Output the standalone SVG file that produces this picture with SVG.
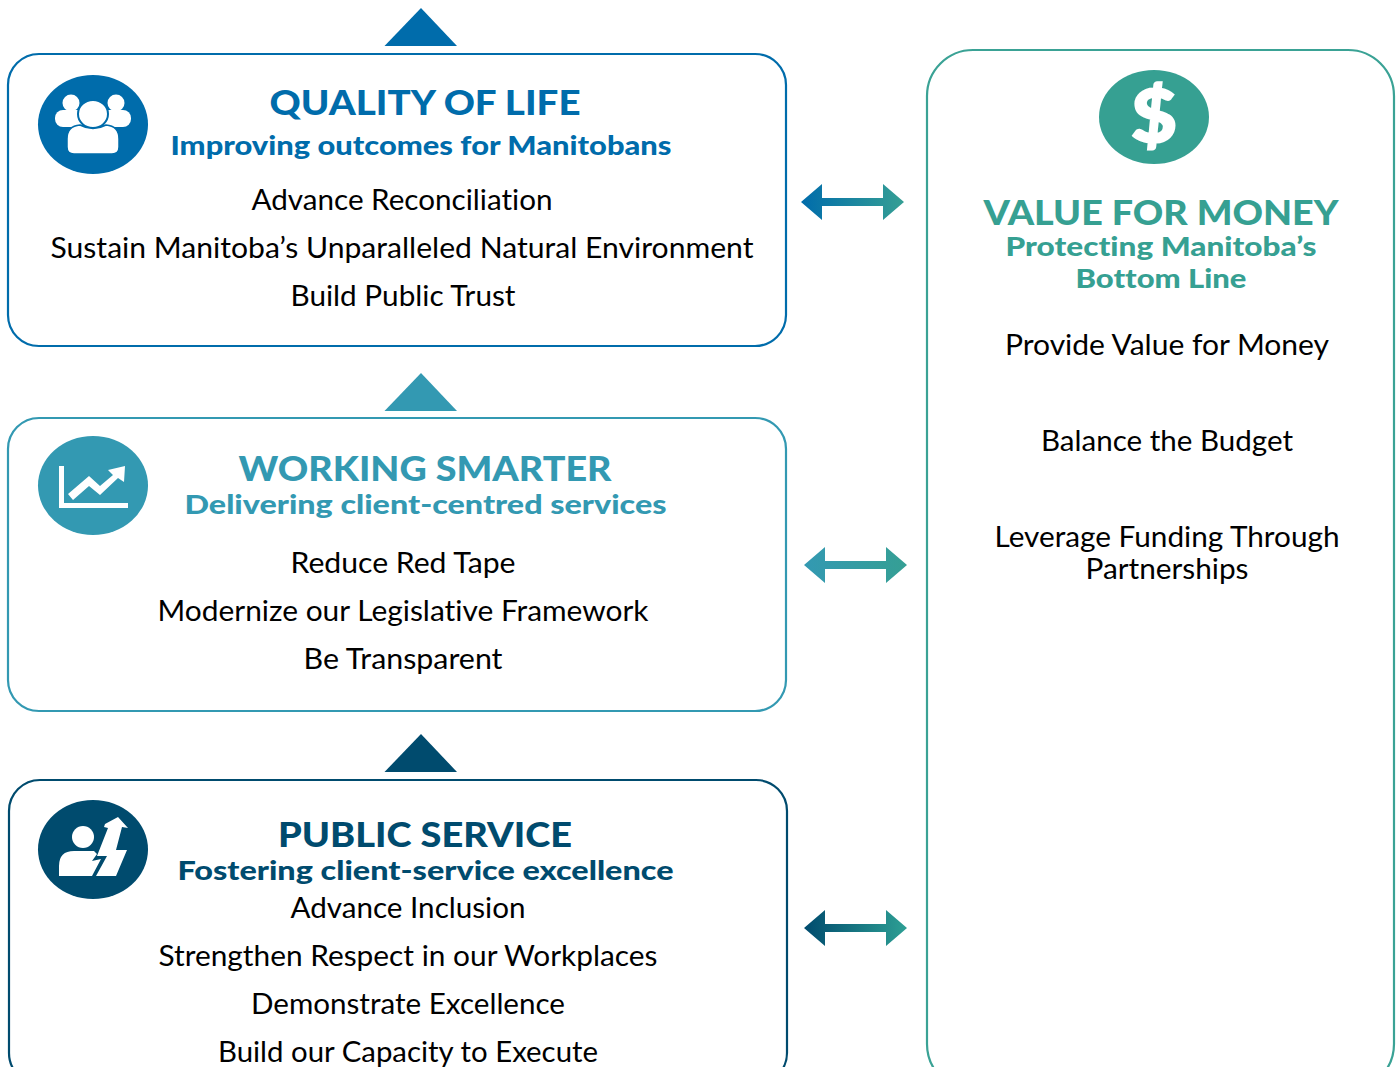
<svg xmlns="http://www.w3.org/2000/svg" width="1400" height="1067" viewBox="0 0 1400 1067">
<style>
text{font-variant-ligatures:none}
.box{fill:#fff;stroke-width:2.2}
.b{font-family:"Lato","Liberation Sans",sans-serif;font-size:29px;fill:#000;text-anchor:middle}
.h{font-family:"Lato","Liberation Sans",sans-serif;font-weight:900;font-size:35px;text-anchor:middle}
.s{font-family:"Lato","Liberation Sans",sans-serif;font-weight:900;font-size:27px;text-anchor:middle}
.w{fill:#fff}
</style>
<defs>
<linearGradient id="g1" gradientUnits="userSpaceOnUse" x1="801" y1="0" x2="904" y2="0"><stop offset="0" stop-color="#006cab"/><stop offset="1" stop-color="#359f94"/></linearGradient>
<linearGradient id="g2" gradientUnits="userSpaceOnUse" x1="804" y1="0" x2="907" y2="0"><stop offset="0" stop-color="#3399b2"/><stop offset="1" stop-color="#359f94"/></linearGradient>
<linearGradient id="g3" gradientUnits="userSpaceOnUse" x1="804" y1="0" x2="907" y2="0"><stop offset="0" stop-color="#004b6e"/><stop offset="1" stop-color="#2d9f94"/></linearGradient>
</defs>
<g id="value-for-money">
<rect class="box" x="927" y="50" width="467" height="1040" rx="46" stroke="#3aa295"/>
<ellipse cx="1154" cy="117" rx="55" ry="47" fill="#36a092"/>
<text x="1154" y="142" font-family="Lato,'Liberation Sans',sans-serif" font-weight="900" font-size="72" fill="#fff" stroke="#fff" stroke-width="2" text-anchor="middle" textLength="46" lengthAdjust="spacingAndGlyphs">$</text>
<text class="h" x="1161" y="225" fill="#36a092" textLength="355" lengthAdjust="spacingAndGlyphs">VALUE FOR MONEY</text>
<text class="s" x="1161" y="256" fill="#36a092" textLength="311" lengthAdjust="spacingAndGlyphs">Protecting Manitoba’s</text>
<text class="s" x="1161" y="288" fill="#36a092" textLength="171" lengthAdjust="spacingAndGlyphs">Bottom Line</text>
<text class="b" x="1167" y="355" textLength="324" lengthAdjust="spacingAndGlyphs">Provide Value for Money</text>
<text class="b" x="1167" y="451" textLength="252" lengthAdjust="spacingAndGlyphs">Balance the Budget</text>
<text class="b" x="1167" y="547" textLength="345" lengthAdjust="spacingAndGlyphs">Leverage Funding Through</text>
<text class="b" x="1167" y="579" textLength="163" lengthAdjust="spacingAndGlyphs">Partnerships</text>
</g>
<g id="quality-of-life">
<path d="M384.500 46L421 8L457 46Z" fill="#006cab"/>
<rect class="box" x="8" y="54" width="778" height="292" rx="31" stroke="#006cab"/>
<ellipse cx="93" cy="124.500" rx="55" ry="49.500" fill="#006cab"/>
<g class="w">
<circle cx="71" cy="103" r="8.500"/><circle cx="116" cy="103" r="8.500"/>
<rect x="55" y="110" width="30" height="17" rx="8"/>
<rect x="101" y="110" width="30" height="17" rx="8"/>
<ellipse cx="93" cy="114" rx="15" ry="14" stroke="#006cab" stroke-width="2"/>
<path d="M67 139Q67 126 80 125Q93 132 106 125Q119 126 119 139V147Q119 154 112 154H74Q67 154 67 147Z" stroke="#006cab" stroke-width="1.500"/>
</g>
<text class="h" x="425" y="115" fill="#006cab" textLength="311" lengthAdjust="spacingAndGlyphs">QUALITY OF LIFE</text>
<text class="s" x="421" y="155" fill="#006cab" textLength="501" lengthAdjust="spacingAndGlyphs">Improving outcomes for Manitobans</text>
<text class="b" x="402" y="210" textLength="301" lengthAdjust="spacingAndGlyphs">Advance Reconciliation</text>
<text class="b" x="402" y="258" textLength="703" lengthAdjust="spacingAndGlyphs">Sustain Manitoba’s Unparalleled Natural Environment</text>
<text class="b" x="403" y="306" textLength="225" lengthAdjust="spacingAndGlyphs">Build Public Trust</text>
</g>
<g id="working-smarter">
<path d="M384.500 411L421 373L457 411Z" fill="#3399b2"/>
<rect class="box" x="8" y="418" width="778" height="293" rx="31" stroke="#3399b2"/>
<ellipse cx="93" cy="485.500" rx="55" ry="49.500" fill="#3399b2"/>
<path class="w" d="M59 466H64V503H128V508H59Z"/>
<path class="w" d="M68 494L89 476L100 486L113 475L108 470L125 466L124 482L118 478L100 495L89 486L73 500Z"/>
<text class="h" x="425" y="481" fill="#3399b2" textLength="373" lengthAdjust="spacingAndGlyphs">WORKING SMARTER</text>
<text class="s" x="425.500" y="514" fill="#3399b2" textLength="482" lengthAdjust="spacingAndGlyphs">Delivering client-centred services</text>
<text class="b" x="403" y="573" textLength="225" lengthAdjust="spacingAndGlyphs">Reduce Red Tape</text>
<text class="b" x="403" y="621" textLength="491" lengthAdjust="spacingAndGlyphs">Modernize our Legislative Framework</text>
<text class="b" x="403" y="669" textLength="199" lengthAdjust="spacingAndGlyphs">Be Transparent</text>
</g>
<g id="public-service">
<path d="M384.500 772L421 734L457 772Z" fill="#004b6e"/>
<rect class="box" x="9" y="780" width="778" height="304" rx="31" stroke="#004b6e"/>
<ellipse cx="93" cy="849.500" rx="55" ry="49.500" fill="#004b6e"/>
<g class="w">
<ellipse cx="83" cy="837" rx="11" ry="11"/>
<path d="M59 876V866Q59 851 74 851H94L97 854L92 861L101 859L92 876Z"/>
<path d="M96 876L107 856H97L108 828L104 827L105 824L118 817L128 828L122 827L116 850H127L116 876Z"/>
</g>
<text class="h" x="425" y="847" fill="#004b6e" textLength="294" lengthAdjust="spacingAndGlyphs">PUBLIC SERVICE</text>
<text class="s" x="425.500" y="880" fill="#004b6e" textLength="496" lengthAdjust="spacingAndGlyphs">Fostering client-service excellence</text>
<text class="b" x="408" y="918" textLength="235" lengthAdjust="spacingAndGlyphs">Advance Inclusion</text>
<text class="b" x="408" y="966" textLength="499" lengthAdjust="spacingAndGlyphs">Strengthen Respect in our Workplaces</text>
<text class="b" x="408" y="1014" textLength="314" lengthAdjust="spacingAndGlyphs">Demonstrate Excellence</text>
<text class="b" x="408" y="1062" textLength="380" lengthAdjust="spacingAndGlyphs">Build our Capacity to Execute</text>
</g>
<g id="connectors">
<path fill="url(#g1)" d="M801 202L822 184V198H883V184L904 202L883 220V206H822V220Z"/>
<path fill="url(#g2)" d="M804 565L825 547V561H886V547L907 565L886 583V569H825V583Z"/>
<path fill="url(#g3)" d="M804 928L825 910V924H886V910L907 928L886 946V932H825V946Z"/>
</g>
</svg>
